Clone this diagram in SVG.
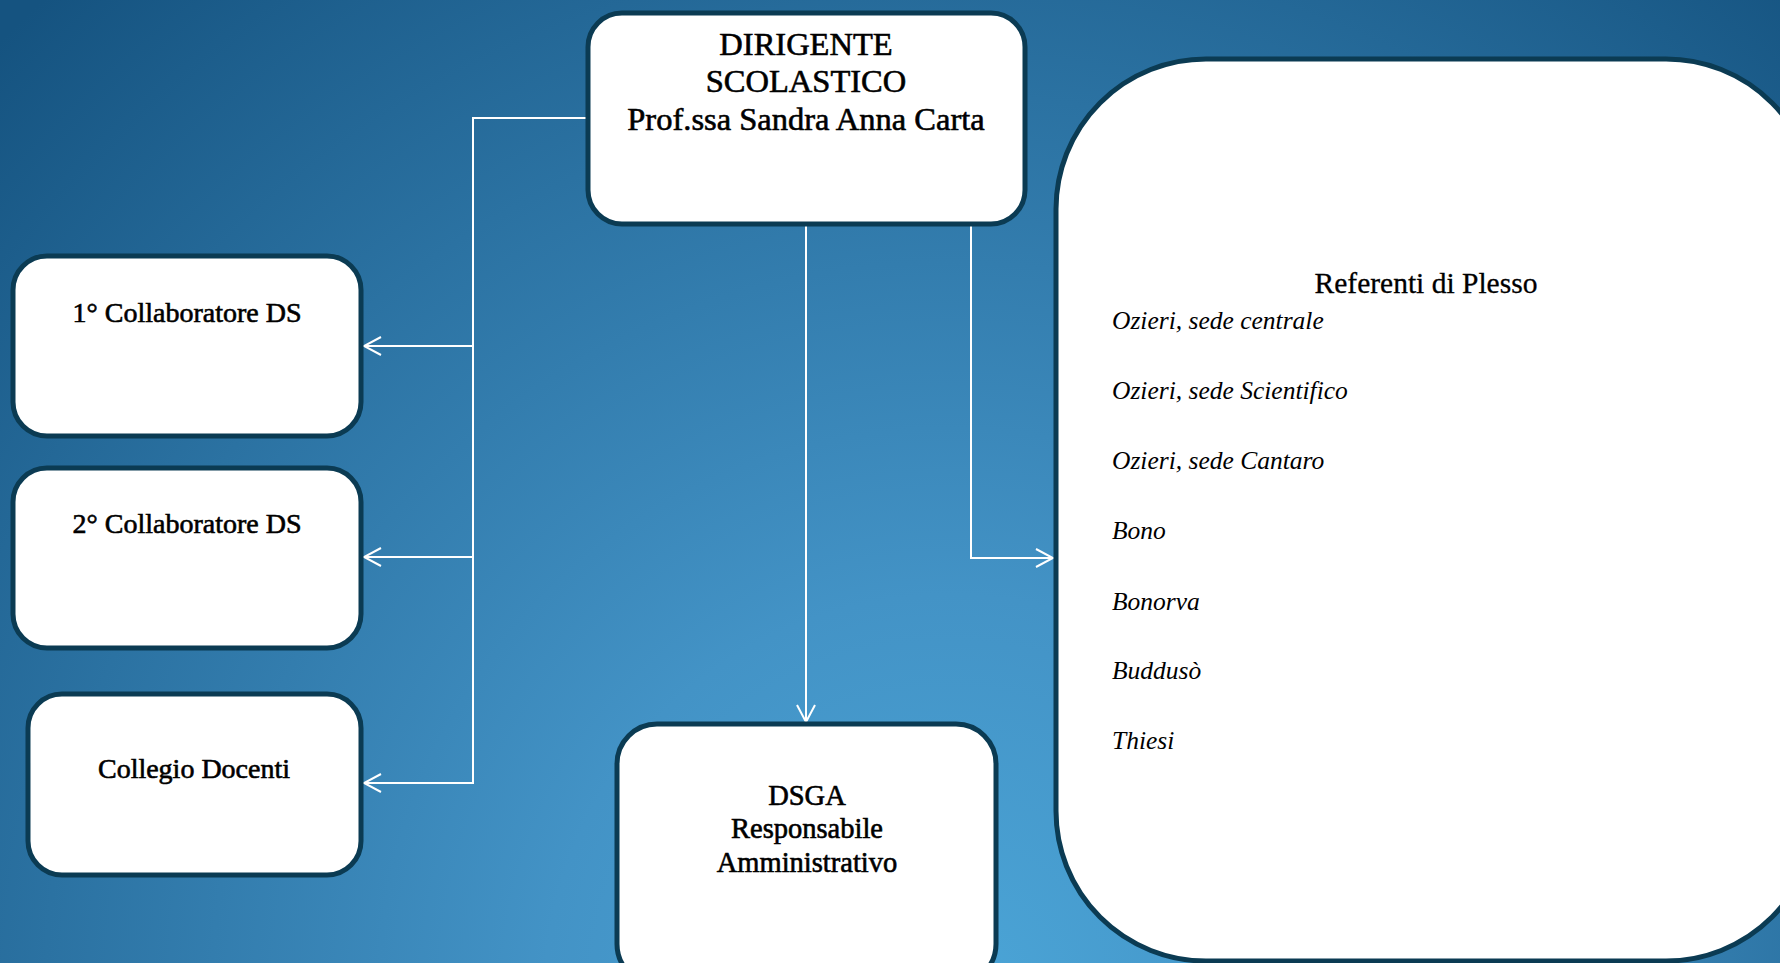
<svg xmlns="http://www.w3.org/2000/svg" width="1780" height="963" viewBox="0 0 1780 963">
<defs>
<radialGradient id="bg" gradientUnits="userSpaceOnUse" cx="950" cy="1000" r="1350">
<stop offset="0" stop-color="#4ba5d7"/>
<stop offset="0.3" stop-color="#4393c6"/>
<stop offset="0.67" stop-color="#2b72a2"/>
<stop offset="1" stop-color="#155380"/>
</radialGradient>
<marker id="arr" markerUnits="userSpaceOnUse" markerWidth="22" markerHeight="22" viewBox="0 0 22 22" refX="20" refY="11" orient="auto">
<path d="M3,2 L20,11 L3,20" fill="none" stroke="#ffffff" stroke-width="2"/>
</marker>
<style>
.box{fill:#ffffff;stroke:#0b3b53;stroke-width:5}
.t{font-family:"Liberation Serif","Times New Roman",serif;fill:#000;stroke:#000;stroke-width:0.6;text-anchor:middle}
.it{font-family:"Liberation Serif","Times New Roman",serif;font-style:italic;fill:#000;font-size:25.5px}
.c{fill:none;stroke:#ffffff;stroke-width:2}
</style>
</defs>
<rect x="0" y="0" width="1780" height="963" fill="url(#bg)"/>
<g id="connectors">
<path class="c" d="M587,118 H473 V783 H364" marker-end="url(#arr)"/>
<path class="c" d="M473,346 H364" marker-end="url(#arr)"/>
<path class="c" d="M473,557 H364" marker-end="url(#arr)"/>
<path class="c" d="M806,225 V722" marker-end="url(#arr)"/>
<path class="c" d="M971,225 V558 H1053" marker-end="url(#arr)"/>
</g>
<g id="dirigente">
<rect class="box" x="588" y="13" width="437" height="211" rx="34"/>
<text class="t" font-size="32.5" x="806" y="55">DIRIGENTE</text>
<text class="t" font-size="32.5" x="806" y="92">SCOLASTICO</text>
<text class="t" font-size="32.5" x="806" y="130">Prof.ssa Sandra Anna Carta</text>
</g>
<g id="collab1">
<rect class="box" x="13" y="256" width="348" height="180" rx="34"/>
<text class="t" font-size="28" x="187" y="322">1° Collaboratore DS</text>
</g>
<g id="collab2">
<rect class="box" x="13" y="468" width="348" height="180" rx="34"/>
<text class="t" font-size="28" x="187" y="533">2° Collaboratore DS</text>
</g>
<g id="collegio">
<rect class="box" x="28" y="694" width="333" height="181" rx="34"/>
<text class="t" font-size="28" x="194" y="778">Collegio Docenti</text>
</g>
<g id="dsga">
<rect class="box" x="617" y="724" width="379" height="260" rx="40"/>
<text class="t" font-size="28.5" x="807" y="805">DSGA</text>
<text class="t" font-size="28.5" x="807" y="838">Responsabile</text>
<text class="t" font-size="28.5" x="807" y="872">Amministrativo</text>
</g>
<g id="referenti">
<rect class="box" x="1056" y="59" width="760" height="902" rx="150"/>
<text font-size="29.5" class="t" style="stroke-width:0.3" x="1426" y="293">Referenti di Plesso</text>
<text class="it" x="1112" y="329">Ozieri, sede centrale</text>
<text class="it" x="1112" y="399">Ozieri, sede Scientifico</text>
<text class="it" x="1112" y="469">Ozieri, sede Cantaro</text>
<text class="it" x="1112" y="539">Bono</text>
<text class="it" x="1112" y="610">Bonorva</text>
<text class="it" x="1112" y="679">Buddusò</text>
<text class="it" x="1112" y="749">Thiesi</text>
</g>
</svg>
